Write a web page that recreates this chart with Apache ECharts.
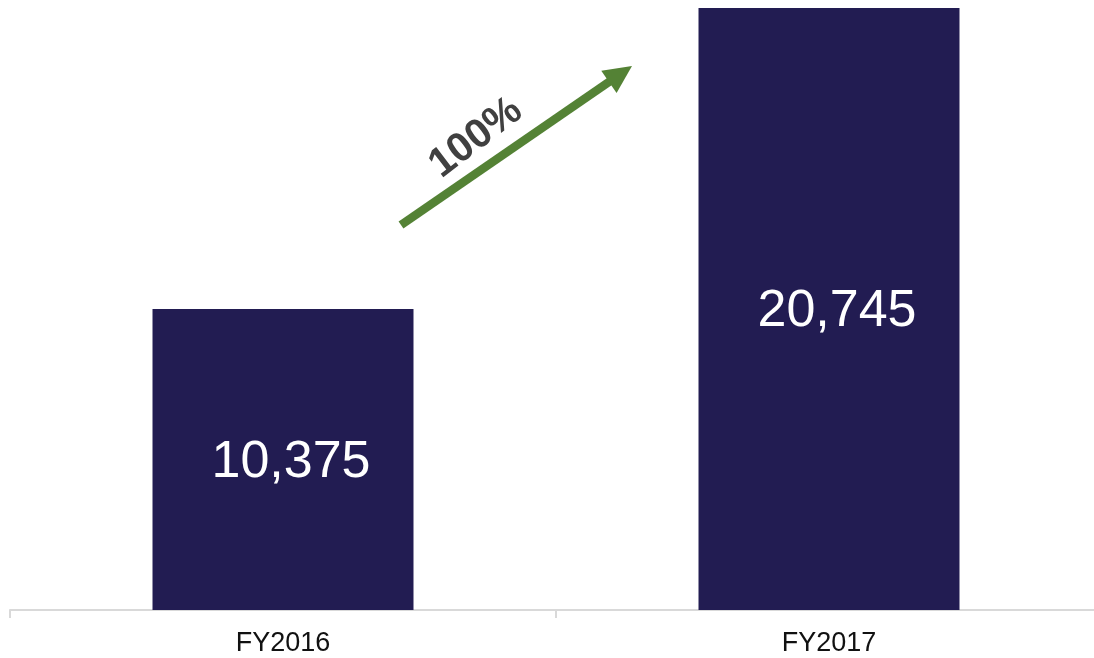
<!DOCTYPE html>
<html>
<head>
<meta charset="utf-8">
<title>FY2016 vs FY2017</title>
<script src="https://cdn.jsdelivr.net/npm/echarts@6/dist/echarts.min.js"></script>
<style>
  html, body { margin: 0; padding: 0; background: #ffffff; }
  #chart { width: 1094px; height: 658px; }
</style>
</head>
<body>
<div id="chart"></div>
<script>
// Yearly totals
const categories = ['FY2016', 'FY2017'];
const values = [10375, 20745];
const growthLabel = '100%';

const FONT = '"Liberation Sans", Arial, Helvetica, sans-serif';
const BAR_COLOR = '#221c52';
const ARROW_COLOR = '#548235';

const chart = echarts.init(document.getElementById('chart'), null, { renderer: 'canvas' });

// Growth arrow drawn between the two bars
const tip = [632, 66];
const tail = [401, 225];
const dx = tip[0] - tail[0], dy = tip[1] - tail[1];
const len = Math.hypot(dx, dy);
const ux = dx / len, uy = dy / len;
const nx = -uy, ny = ux;
const headLen = 28, headHalf = 13.5;
const base = [tip[0] - headLen * ux, tip[1] - headLen * uy];
const shaftEnd = [base[0] + 3 * ux, base[1] + 3 * uy];
const angle = Math.atan2(-dy, dx);

chart.setOption({
  animation: false,
  // the plot area runs slightly past the right edge of the canvas
  grid: { left: 10, top: 8, width: 1092, height: 602, outerBoundsMode: 'none', containLabel: false },
  xAxis: {
    type: 'category',
    data: categories,
    boundaryGap: true,
    axisLine: { show: true, lineStyle: { color: '#d9d9d9', width: 2 } },
    axisTick: { show: true, length: 8, lineStyle: { color: '#d9d9d9', width: 2 } },
    axisLabel: { color: '#111111', fontSize: 27, fontFamily: FONT, margin: 20 }
  },
  yAxis: {
    type: 'value',
    show: false,
    min: 0,
    max: function (v) { return v.max; },
    splitLine: { show: false }
  },
  series: [{
    type: 'bar',
    data: values,
    barWidth: '47.8%',
    itemStyle: { color: BAR_COLOR },
    label: {
      show: true,
      position: 'inside',
      offset: [8, 3],
      color: '#ffffff',
      fontSize: 52,
      fontFamily: FONT,
      formatter: function (p) { return p.value.toLocaleString('en-US'); }
    }
  }],
  graphic: [
    {
      type: 'line',
      shape: { x1: tail[0], y1: tail[1], x2: shaftEnd[0], y2: shaftEnd[1] },
      style: { stroke: ARROW_COLOR, lineWidth: 8.5 }
    },
    {
      type: 'polygon',
      shape: {
        points: [
          tip,
          [base[0] + headHalf * nx, base[1] + headHalf * ny],
          [base[0] - headHalf * nx, base[1] - headHalf * ny]
        ]
      },
      style: { fill: ARROW_COLOR }
    },
    {
      type: 'text',
      x: 476,
      y: 138,
      rotation: angle + 0.05,
      style: {
        text: growthLabel,
        fill: '#404040',
        font: 'bold 41px ' + FONT,
        align: 'center',
        verticalAlign: 'middle'
      }
    }
  ]
});
</script>
</body>
</html>
